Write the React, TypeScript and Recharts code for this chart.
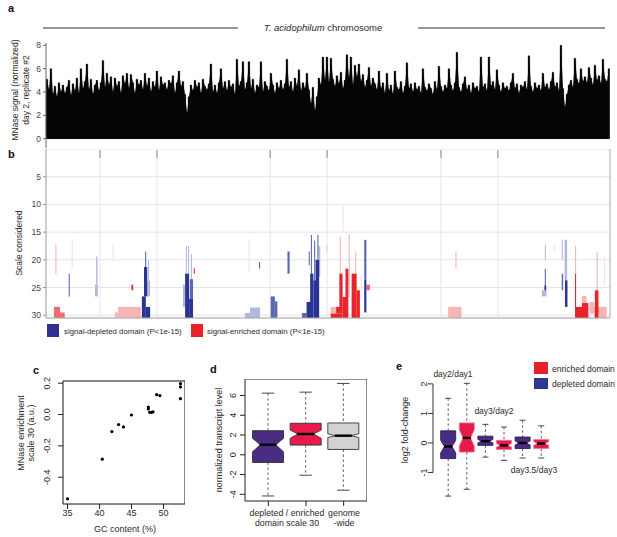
import React from 'react';
import {
  ComposedChart, BarChart, Bar, Area, XAxis, YAxis, ScatterChart, Scatter, ReferenceArea, ReferenceLine, CartesianGrid,
} from 'recharts';

const FONT = '"Liberation Sans", Arial, Helvetica, sans-serif';
const TXT = '#2a2a2a';

// ---------- panel a : MNase signal along the chromosome ----------
const signalTicks = [0, 2, 4, 6, 8];
const signal = [
  5.1, 4.2, 6.0, 3.8, 4.5, 3.6, 4.8, 4.0, 4.6, 3.9,
  4.4, 5.0, 3.7, 4.7, 4.1, 5.2, 3.9, 6.0, 4.3, 4.9,
  6.4, 4.2, 5.1, 3.8, 4.6, 5.0, 4.1, 4.8, 6.7, 4.4,
  5.6, 4.6, 5.3, 4.0, 5.2, 4.5, 4.9, 3.9, 5.4, 4.7,
  5.6, 4.3, 5.5, 4.8, 3.9, 5.1, 4.6, 5.0, 4.2, 5.6,
  4.5, 5.2, 4.0, 4.9, 4.4, 5.8, 4.1, 5.3, 4.6, 4.8,
  4.2, 5.0, 4.7, 5.4, 3.9, 4.8, 5.8, 4.5, 4.9, 3.8,
  2.2, 3.6, 4.6, 4.1, 5.0, 4.4, 4.8, 3.9, 5.1, 4.5,
  4.2, 4.7, 6.4, 4.0, 4.6, 3.9, 4.8, 6.0, 4.3, 4.9,
  4.1, 5.0, 4.4, 4.7, 3.8, 6.8, 4.5, 4.9, 6.6, 4.2,
  4.8, 6.6, 4.3, 5.1, 3.9, 4.6, 4.4, 6.6, 4.0, 4.9,
  4.5, 4.1, 5.6, 4.6, 3.9, 4.8, 4.3, 5.0, 4.2, 4.7,
  6.8, 4.4, 4.9, 4.0, 5.2, 4.5, 5.9, 4.1, 4.8, 4.3,
  5.6, 4.2, 3.0, 4.4, 2.4, 3.6, 5.2, 4.6, 7.0, 5.0,
  7.0, 4.8, 6.9, 5.1, 4.5, 5.4, 4.7, 5.7, 4.3, 5.0,
  7.2, 5.2, 7.0, 4.6, 6.3, 5.3, 6.4, 4.9, 5.5, 4.4,
  5.0, 6.1, 4.5, 5.2, 4.7, 4.2, 5.8, 4.3, 4.8, 3.9,
  5.6, 4.1, 4.6, 3.8, 5.8, 4.4, 4.2, 4.9, 3.9, 4.5,
  6.5, 4.3, 4.7, 4.0, 4.8, 4.2, 4.5, 3.9, 6.0, 4.4,
  4.1, 4.7, 4.3, 3.8, 4.9, 4.2, 6.2, 4.5, 4.0, 4.6,
  4.3, 6.0, 4.6, 4.1, 4.8, 7.4, 4.4, 4.0, 4.7, 5.3,
  4.2, 4.6, 3.9, 4.8, 4.3, 4.5, 4.0, 7.0, 4.4, 4.7,
  4.1, 7.0, 4.5, 4.9, 4.2, 5.9, 4.6, 4.0, 4.8, 4.3,
  4.5, 4.1, 4.8, 5.6, 4.3, 4.7, 3.9, 4.6, 4.4, 4.9,
  4.2, 7.1, 4.5, 4.0, 4.8, 4.3, 4.6, 4.1, 5.6, 4.4,
  4.7, 4.2, 4.9, 5.7, 4.4, 4.8, 4.1, 8.0, 4.3, 2.7,
  3.8, 4.6, 5.0, 4.4, 6.9, 5.1, 4.7, 6.0, 4.9, 5.3,
  4.8, 6.1, 5.2, 4.6, 6.3, 5.0, 5.4, 4.7, 6.8, 5.1,
  4.9, 6.0,
];

// ---------- panel b : domains (start kb, end kb, scale top, scale bottom, strength 0-3) ----------
const GENOME_KB = 1565;
const scaleTicks = [5, 10, 15, 20, 25, 30];
const chromosomeMarks = [150, 308, 622, 780, 1096, 1254];
type Dom = [number, number, number, number, number];
const depletedDomains: Dom[] = [
  [63, 66, 22.5, 26.6, 2], [139, 143, 19.4, 24.5, 1], [136, 144, 24.5, 26.6, 1],
  [266, 277, 26.6, 30.5, 3], [272, 281, 21.3, 26.6, 3], [275, 278, 18.5, 21.3, 2],
  [281, 289, 23.7, 26.6, 1], [277, 289, 28.5, 30.5, 3], [283, 286, 20, 23.7, 1],
  [380, 386, 24.5, 28.5, 1], [386, 397, 22.5, 30.5, 3], [397, 408, 27, 30.5, 3],
  [399, 408, 23.5, 27, 2], [388, 391, 17.5, 22.5, 1], [394, 397, 17.5, 22.5, 1],
  [402, 405, 19, 23.5, 1], [552, 566, 29.6, 30.5, 1], [566, 594, 28.6, 30.5, 1],
  [591, 594, 20.4, 21.6, 2], [622, 635, 26.6, 30.5, 2], [635, 642, 27.5, 30.5, 2],
  [670, 676, 18.5, 22.5, 2], [710, 723, 29.6, 30.5, 2], [723, 737, 27.6, 30.5, 3],
  [733, 742, 22.5, 30.5, 3], [742, 751, 23.7, 30.5, 3], [748, 758, 20, 30.5, 3],
  [735, 738, 15.5, 22.5, 2], [744, 747, 16.5, 23.7, 2], [753, 756, 15.5, 20, 2],
  [756, 761, 17.5, 23, 1], [729, 732, 18.5, 21, 2], [883, 889, 16.4, 23.6, 2],
  [883, 889, 23.6, 29.5, 3], [1384, 1387, 17.3, 20, 1], [1384, 1387, 21.6, 24.6, 2],
  [1383, 1388, 24.6, 25.5, 3], [1376, 1389, 25.5, 26.6, 1], [1409, 1412, 17.3, 18.5, 0],
  [1431, 1434, 16.4, 20, 1], [1431, 1435, 22.5, 25.5, 2], [1439, 1446, 16.4, 23.7, 1],
  [1440, 1447, 23.7, 28.5, 3],
];
const enrichedDomains: Dom[] = [
  [26, 29, 17.3, 22.5, 1], [71, 74, 16.4, 21.6, 0], [22, 39, 28.5, 30.5, 2],
  [39, 52, 29.5, 30.5, 2], [185, 188, 17.3, 20.3, 0], [191, 200, 29.5, 30.5, 1],
  [200, 263, 28.5, 30.5, 1], [237, 242, 24.5, 25.5, 3], [410, 413, 21.5, 22.5, 3],
  [562, 565, 16.4, 22.2, 0], [778, 781, 17.3, 18.5, 1], [790, 805, 28.5, 29.7, 1],
  [790, 823, 29.7, 30.5, 3], [805, 823, 28.5, 29.7, 3], [814, 823, 22.5, 28.5, 3],
  [815, 818, 15.8, 22.5, 1], [823, 839, 26.7, 30.5, 3], [831, 839, 21.6, 26.7, 3],
  [840, 843, 15.4, 26.7, 1], [823, 826, 10.3, 15, 0], [848, 862, 22.5, 30.5, 3],
  [862, 871, 25.5, 30.5, 3], [858, 861, 18.5, 22.5, 1], [873, 876, 23, 26, 0],
  [889, 899, 24.5, 25.5, 2], [1136, 1139, 18.5, 21.6, 1], [1116, 1153, 28.5, 30.5, 1],
  [1468, 1471, 17.5, 22.5, 1], [1468, 1471, 22.5, 28.5, 3], [1468, 1505, 28.5, 30.5, 3],
  [1487, 1505, 27.8, 28.5, 3], [1487, 1500, 26.5, 27.8, 1], [1508, 1521, 27.6, 29.7, 1],
  [1521, 1556, 28.5, 30.5, 1], [1523, 1533, 25.5, 30.5, 3], [1528, 1531, 18.6, 25.5, 1],
  [1548, 1551, 19.5, 24.5, 0],
];
const depletedShades = ['#e1e3f2', '#b4b8dc', '#5c66b1', '#2a3593'];
const enrichedShades = ['#fbdede', '#f6b5b5', '#ee6b6b', '#e8232a'];

// ---------- panel c : GC content vs MNase enrichment ----------
const gcContent = [35.0, 40.43, 41.93, 42.97, 43.74, 44.98, 47.62, 47.62, 47.83, 48.14, 48.35, 48.92, 49.43, 52.64, 52.64, 52.64];
const mnaseEnrichment = [-0.538, -0.285, -0.109, -0.064, -0.079, -0.003, 0.048, 0.036, 0.014, 0.014, 0.017, 0.127, 0.121, 0.197, 0.176, 0.101];
const gcTicks = [35, 40, 45, 50];
const enrichTicks = [-0.4, -0.2, 0, 0.2];
const gcDomain: [number, number] = [34.29, 53.35];
const enrichDomain: [number, number] = [-0.571, 0.214];

// ---------- panel d : transcript level boxplots ----------
const dGroups = ['depleted', 'enriched', 'genome'];
const dLow = [-4.17, -2.07, -3.59];
const dQ1 = [-0.78, 0.98, 0.54];
const dMedian = [1.02, 2.1, 1.93];
const dQ3 = [2.44, 3.19, 3.22];
const dHigh = [6.24, 6.34, 7.22];
const dNotchLow = [0.3, 1.66, 1.75];
const dNotchHigh = [1.66, 2.5, 2.12];
const dTicks = [-4, -2, 0, 2, 4, 6];
const dYDomain: [number, number] = [-4.68, 7.67];
const dXDomain: [number, number] = [0.38, 3.62];

// ---------- panel e : fold-change boxplots ----------
const eGroups = ['depleted', 'enriched', 'depleted', 'enriched', 'depleted', 'enriched'];
const eLow = [-1.8, -1.57, -0.48, -0.59, -0.51, -0.51];
const eQ1 = [-0.53, -0.31, -0.08, -0.22, -0.19, -0.19];
const eMedian = [-0.12, 0.17, 0.06, -0.08, 0.0, -0.02];
const eQ3 = [0.41, 0.68, 0.23, 0.09, 0.2, 0.12];
const eHigh = [1.51, 2.02, 0.63, 0.54, 0.77, 0.58];
const eNotchLow = [-0.34, -0.1, 0.0, -0.14, -0.07, -0.08];
const eNotchHigh = [0.09, 0.45, 0.12, -0.02, 0.07, 0.04];
const eTicks = [-1, 0, 1, 2];
const eYDomain: [number, number] = [-2.0, 2.2];
const eXDomain: [number, number] = [0.194, 7.02];

const groupFill: Record<string, string> = { depleted: '#4a2c83', enriched: '#e8194b', genome: '#d2d2d2' };

const signalData = signal.map((v, i) => ({ i, v }));
const domainRects = [
  ...depletedDomains.map((d) => ({ d, color: depletedShades[d[4]] })),
  ...enrichedDomains.map((d) => ({ d, color: enrichedShades[d[4]] })),
].sort((a, b) => a.d[4] - b.d[4]);
const domainPoints = [...depletedDomains, ...enrichedDomains].map((d) => ({ pos: d[0], s: d[2] }));
const gcData = gcContent.map((g, i) => ({ gc: g, m: mnaseEnrichment[i] }));
const dData = dGroups.map((g, i) => ({
  x: i + 1, group: g, range: [dLow[i], dHigh[i]], lo: dLow[i], hi: dHigh[i],
  q1: dQ1[i], med: dMedian[i], q3: dQ3[i], nlo: dNotchLow[i], nhi: dNotchHigh[i],
}));
const eData = eGroups.map((g, i) => ({
  x: i + 1, group: g, range: [eLow[i], eHigh[i]], lo: eLow[i], hi: eHigh[i],
  q1: eQ1[i], med: eMedian[i], q3: eQ3[i], nlo: eNotchLow[i], nhi: eNotchHigh[i],
}));

const makeBoxShape = (strokeFor: (g: string) => string, medW: number) => (props: any) => {
  const { x, y, width, height, payload } = props;
  if (width == null || height == null) return <g />;
  const top = Math.min(y, y + height);
  const h = Math.abs(height);
  const k = h / (payload.hi - payload.lo);
  const Y = (v: number) => top + (payload.hi - v) * k;
  const cx = x + width / 2;
  const hw = width / 2;
  const nw = hw * 0.5;
  const cap = width * 0.2;
  const pts = [
    [cx - hw, Y(payload.q1)], [cx + hw, Y(payload.q1)], [cx + hw, Y(payload.nlo)],
    [cx + nw, Y(payload.med)], [cx + hw, Y(payload.nhi)], [cx + hw, Y(payload.q3)],
    [cx - hw, Y(payload.q3)], [cx - hw, Y(payload.nhi)], [cx - nw, Y(payload.med)],
    [cx - hw, Y(payload.nlo)],
  ].map((p) => p.join(',')).join(' ');
  const st = strokeFor(payload.group);
  return (
    <g>
      <line x1={cx} x2={cx} y1={Y(payload.hi)} y2={Y(payload.q3)} stroke="#333" strokeWidth={0.8} strokeDasharray="2.5 2.5" />
      <line x1={cx} x2={cx} y1={Y(payload.q1)} y2={Y(payload.lo)} stroke="#333" strokeWidth={0.8} strokeDasharray="2.5 2.5" />
      <line x1={cx - cap} x2={cx + cap} y1={Y(payload.hi)} y2={Y(payload.hi)} stroke="#333" strokeWidth={0.9} />
      <line x1={cx - cap} x2={cx + cap} y1={Y(payload.lo)} y2={Y(payload.lo)} stroke="#333" strokeWidth={0.9} />
      <polygon points={pts} fill={groupFill[payload.group]} stroke={st} strokeWidth={0.9} />
      <line x1={cx - nw * medW} x2={cx + nw * medW} y1={Y(payload.med)} y2={Y(payload.med)} stroke="#000" strokeWidth={2.4} />
    </g>
  );
};

const rotTick = (dx: number, fmt: (v: number) => string) => (props: any) => {
  const { x, y, payload } = props;
  const X = x + dx;
  return (
    <text x={X} y={y} transform={`rotate(-90 ${X} ${y})`} textAnchor="middle" fontSize={9} fill={TXT} fontFamily={FONT}>
      {fmt(payload.value)}
    </text>
  );
};

const Rot = ({ x, y, children, size = 9 }: any) => (
  <text x={x} y={y} transform={`rotate(-90 ${x} ${y})`} textAnchor="middle" fontSize={size} fill={TXT}>{children}</text>
);

export default function App() {
  const abs = (l: number, t: number): React.CSSProperties => ({ position: 'absolute', left: l, top: t });
  return (
    <div style={{ position: 'absolute', left: 0, top: 0, width: 617, height: 537, background: '#fff', fontFamily: FONT, overflow: 'hidden' }}>
      {/* panel a */}
      <div style={abs(0, 40)}>
        <ComposedChart width={610} height={110} data={signalData} margin={{ top: 3, right: 0, bottom: 2, left: 0 }} barCategoryGap={0} barGap={0}>
          <XAxis dataKey="i" hide />
          <YAxis width={46} domain={[-0.8, 8.2]} ticks={signalTicks} allowDataOverflow interval={0}
            tick={{ fontSize: 8.5, fill: '#444' }} tickSize={3} tickLine={{ stroke: '#666' }} axisLine={{ stroke: '#666' }} />
          <Area type="linear" dataKey="v" baseValue={0} fill="#060606" fillOpacity={1} stroke="none" isAnimationActive={false} dot={false} activeDot={false} />
          <Bar dataKey="v" barSize={2} fill="#060606" stroke="#060606" strokeWidth={0.3} isAnimationActive={false} />
        </ComposedChart>
      </div>

      {/* panel b */}
      <div style={abs(0, 149)}>
        <ScatterChart width={611} height={170} margin={{ top: 0, right: 1, bottom: 1, left: 0 }}>
          <CartesianGrid horizontal vertical={false} stroke="#e4e4e4" />
          <XAxis type="number" dataKey="pos" domain={[0, GENOME_KB]} hide allowDataOverflow />
          <YAxis type="number" dataKey="s" width={46} domain={[0, 30.5]} reversed ticks={scaleTicks} allowDataOverflow interval={0}
            tick={{ fontSize: 8.5, fill: '#444' }} tickSize={3} tickLine={{ stroke: '#999' }} axisLine={{ stroke: '#999' }} />
          {chromosomeMarks.map((m) => (
            <ReferenceLine key={'g' + m} x={m} stroke="#e6e6e6" />
          ))}
          {chromosomeMarks.map((m) => (
            <ReferenceLine key={'t' + m} segment={[{ x: m, y: 0.2 }, { x: m, y: 1.6 }]} stroke="#888" />
          ))}
          <ReferenceLine x={GENOME_KB} stroke="#aaa" />
          <ReferenceLine y={30.5} stroke="#aaa" />
          {domainRects.map((r, i) => (
            <ReferenceArea key={i} x1={r.d[0]} x2={r.d[1]} y1={r.d[2]} y2={r.d[3]} fill={r.color} fillOpacity={1} stroke="none" ifOverflow="visible" />
          ))}
          <Scatter data={domainPoints} isAnimationActive={false} shape={() => <g />} />
        </ScatterChart>
      </div>

      {/* panel c */}
      <div style={abs(23, 371)}>
        <ScatterChart width={162} height={155} margin={{ top: 10, right: 0, bottom: 0, left: 0 }}>
          <XAxis type="number" dataKey="gc" domain={gcDomain} ticks={gcTicks} allowDataOverflow height={22} interval={0}
            axisLine={false} tickSize={5} tickMargin={1} tickLine={{ stroke: '#222' }} tick={{ fontSize: 9, fill: TXT }} />
          <YAxis type="number" dataKey="m" width={40} domain={enrichDomain} ticks={enrichTicks} allowDataOverflow interval={0}
            axisLine={false} tickSize={5} tickLine={{ stroke: '#222' }} tick={rotTick(-6, (v) => v.toFixed(1))} />
          <ReferenceArea x1={gcDomain[0]} x2={gcDomain[1]} y1={enrichDomain[0]} y2={enrichDomain[1]} fill="none" stroke="#111" ifOverflow="visible" />
          <Scatter data={gcData} isAnimationActive={false}
            shape={(p: any) => <circle cx={p.cx} cy={p.cy} r={1.6} fill="#000" />} />
        </ScatterChart>
      </div>

      {/* panel d */}
      <div style={abs(215, 379)}>
        <BarChart width={152} height={130} data={dData} margin={{ top: 0, right: 0, bottom: 0, left: 0 }}>
          <XAxis type="number" dataKey="x" domain={dXDomain} ticks={[1, 2, 3]} allowDataOverflow height={8} interval={0}
            axisLine={false} tickSize={5} tickLine={{ stroke: '#222' }} tickFormatter={() => ''} />
          <YAxis width={30} domain={dYDomain} ticks={dTicks} allowDataOverflow axisLine={false} tickSize={5} interval={0}
            tickLine={{ stroke: '#222' }} tick={rotTick(-1.5, (v) => String(v))} />
          <ReferenceArea x1={dXDomain[0]} x2={dXDomain[1]} y1={dYDomain[0]} y2={dYDomain[1]} fill="none" stroke="#222" ifOverflow="visible" />
          <Bar dataKey="range" barSize={31} isAnimationActive={false}
            shape={makeBoxShape(() => '#333', 1.1)} />
        </BarChart>
      </div>

      {/* panel e */}
      <div style={abs(413, 378)}>
        <BarChart width={147} height={124} data={eData} margin={{ top: 0, right: 0, bottom: 0, left: 0 }}>
          <XAxis type="number" dataKey="x" domain={eXDomain} hide allowDataOverflow />
          <YAxis width={20} domain={eYDomain} ticks={eTicks} allowDataOverflow axisLine={false} tickSize={5} interval={0}
            tickLine={{ stroke: '#333' }} tick={rotTick(1, (v) => String(v))} />
          <ReferenceLine segment={[{ x: eXDomain[0], y: -1 }, { x: eXDomain[0], y: 2 }]} stroke="#333" />
          <Bar dataKey="range" barSize={15} isAnimationActive={false}
            shape={makeBoxShape((g) => (g === 'enriched' ? '#f27b95' : '#2b1b5a'), 1.1)} />
        </BarChart>
      </div>

      {/* text overlay */}
      <svg width={617} height={537} style={{ position: 'absolute', left: 0, top: 0, pointerEvents: 'none' }} fontFamily={FONT}>
        <text x={8} y={12} fontSize={11} fontWeight="bold" fill="#111">a</text>
        <line x1={43} x2={238} y1={28} y2={28} stroke="#333" strokeWidth={1.2} />
        <line x1={418} x2={605} y1={28} y2={28} stroke="#333" strokeWidth={1.2} />
        <text x={323} y={31} fontSize={9.5} textAnchor="middle" fill={TXT}>
          <tspan fontStyle="italic">T. acidophilum</tspan> chromosome
        </text>
        <Rot x={18} y={90} size={8.5}>MNase signal (normalized)</Rot>
        <Rot x={29} y={90} size={8.5}>day 2, replicate #2</Rot>

        <text x={8} y={158} fontSize={11} fontWeight="bold" fill="#111">b</text>
        <Rot x={22} y={243} size={8.5}>Scale considered</Rot>
        <rect x={47} y={324} width={12} height={13} fill="#2e3192" />
        <text x={64} y={333.5} fontSize={7.8} fill={TXT}>signal-depleted domain (P&lt;1e-15)</text>
        <rect x={191} y={324} width={12} height={13} fill="#e8202a" />
        <text x={207} y={333.5} fontSize={7.8} fill={TXT}>signal-enriched domain (P&lt;1e-15)</text>

        <text x={33} y={374} fontSize={11} fontWeight="bold" fill="#111">c</text>
        <Rot x={24} y={433} size={9}>MNase enrichment</Rot>
        <Rot x={34} y={433} size={9}>scale 30 (a.u.)</Rot>
        <text x={125} y={532} fontSize={9} textAnchor="middle" fill={TXT}>GC content (%)</text>

        <text x={210} y={373} fontSize={11} fontWeight="bold" fill="#111">d</text>
        <Rot x={222} y={440} size={9}>normalized transcript level</Rot>
        <text x={287} y={516} fontSize={8.8} textAnchor="middle" fill={TXT}>depleted / enriched</text>
        <text x={287} y={525.5} fontSize={8.8} textAnchor="middle" fill={TXT}>domain scale 30</text>
        <text x={344} y={516} fontSize={8.8} textAnchor="middle" fill={TXT}>genome</text>
        <text x={344} y={525.5} fontSize={8.8} textAnchor="middle" fill={TXT}>-wide</text>

        <text x={396} y={370} fontSize={11} fontWeight="bold" fill="#111">e</text>
        <Rot x={408} y={430} size={9}>log2 fold-change</Rot>
        <text x={453} y={377} fontSize={8.5} textAnchor="middle" fill={TXT}>day2/day1</text>
        <text x={494} y={413.5} fontSize={8.5} textAnchor="middle" fill={TXT}>day3/day2</text>
        <text x={534} y={473} fontSize={8.5} textAnchor="middle" fill={TXT}>day3.5/day3</text>
        <rect x={534} y={362} width={14} height={12} fill="#e5202e" />
        <text x={552} y={371.5} fontSize={8.5} fill={TXT}>enriched domain</text>
        <rect x={534} y={378} width={14} height={11} fill="#2b3990" />
        <text x={552} y={386.5} fontSize={8.5} fill={TXT}>depleted domain</text>
      </svg>
    </div>
  );
}
